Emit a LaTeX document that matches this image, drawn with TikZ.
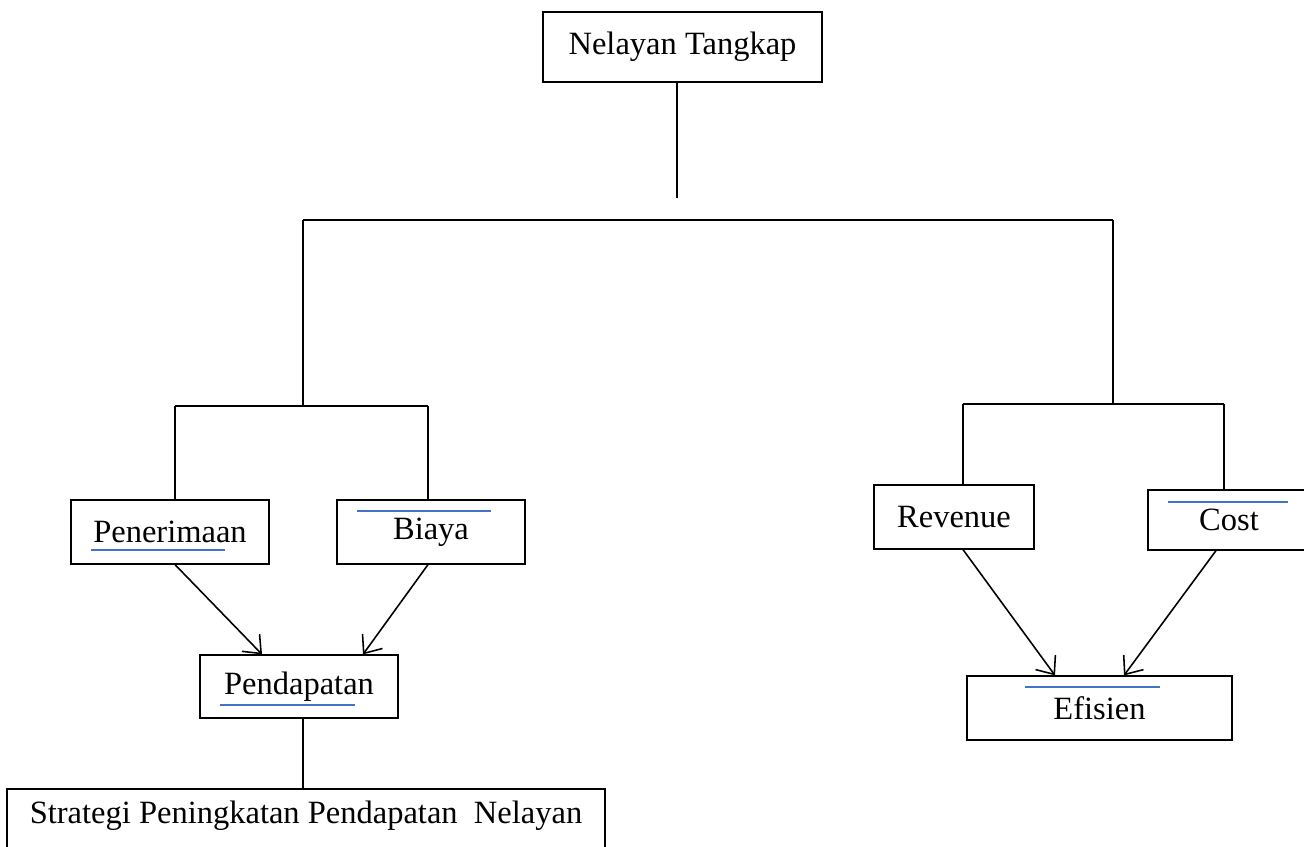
\documentclass[tikz,border=0pt]{standalone}
\usepackage{fontspec}
\setmainfont{Liberation Serif}
\usetikzlibrary{arrows.meta}
\definecolor{markblue}{RGB}{68,114,196}
\begin{document}
\begin{tikzpicture}[x=0.02cm,y=-0.02cm,
    box/.style={draw,line width=0.7pt,rectangle,inner sep=0pt,font=\fontsize{18.5}{22}\selectfont},
    conn/.style={line width=0.9pt},
    arr/.style={line width=0.9pt,-{Straight Barb[length=8.5pt,width=14pt]}},
    blueline/.style={markblue,line width=1.1pt}]
    \useasboundingbox (0,0) rectangle (1304,847);
    % boxes
    \node[box,minimum width=5.58cm,minimum height=1.4cm] (top) at (682.5,47) {Nelayan Tangkap};
    \node[box,minimum width=3.96cm,minimum height=1.28cm] (pen) at (170,532) {Penerimaan};
    \node[box,minimum width=3.76cm,minimum height=1.28cm] (biaya) at (431,532) {Biaya};
    \node[box,minimum width=3.96cm,minimum height=1.26cm] (pend) at (299,686.5) {Pendapatan};
    \node[box,minimum width=11.96cm,minimum height=1.42cm,text depth=0.5cm] (strat) at (306,824.5) {Strategi Peningkatan Pendapatan\ \ Nelayan};
    \node[box,minimum width=3.2cm,minimum height=1.28cm] (rev) at (954,517) {Revenue};
    \node[box,minimum width=3.24cm,minimum height=1.2cm] (cost) at (1229,520) {Cost};
    \node[box,minimum width=5.3cm,minimum height=1.28cm] (eff) at (1099.5,708) {Efisien};
    % tree lines
    \coordinate (gap) at (677,198);
    \coordinate (barL) at (303,220);
    \coordinate (barR) at (1113,220);
    \coordinate (subL) at (303,406);
    \coordinate (subR) at (1113,404);
    \coordinate (subLa) at (175,406);
    \coordinate (subLb) at (428,406);
    \coordinate (subRa) at (963,404);
    \coordinate (subRb) at (1224,404);
    \draw[conn] (gap |- top.south) -- (gap);
    \draw[conn] (barL) -- (barR);
    \draw[conn] (barL) -- (subL);
    \draw[conn] (barR) -- (subR);
    \draw[conn] (subLa) -- (subLb);
    \draw[conn] (subRa) -- (subRb);
    \draw[conn] (subLa) -- (subLa |- pen.north);
    \draw[conn] (subLb) -- (subLb |- biaya.north);
    \draw[conn] (subRa) -- (subRa |- rev.north);
    \draw[conn] (subRb) -- (subRb |- cost.north);
    \draw[conn] (subL |- pend.south) -- (subL |- strat.north);
    % arrows
    \draw[arr] (subLa |- pen.south) -- ([xshift=-0.74cm]pend.north);
    \draw[arr] (subLb |- biaya.south) -- ([xshift=1.28cm]pend.north);
    \draw[arr] (rev.south -| subRa) -- ([xshift=-0.89cm]eff.north);
    \draw[arr] ([xshift=-0.26cm]cost.south) -- ([xshift=0.49cm]eff.north);
    % blue marks
    \draw[blueline] (91,550) -- (225,550);
    \draw[blueline] (357,511) -- (491,511);
    \draw[blueline] (220,705) -- (355,705);
    \draw[blueline] (1168,502) -- (1288,502);
    \draw[blueline] (1025,687) -- (1160,687);
\end{tikzpicture}
\end{document}
